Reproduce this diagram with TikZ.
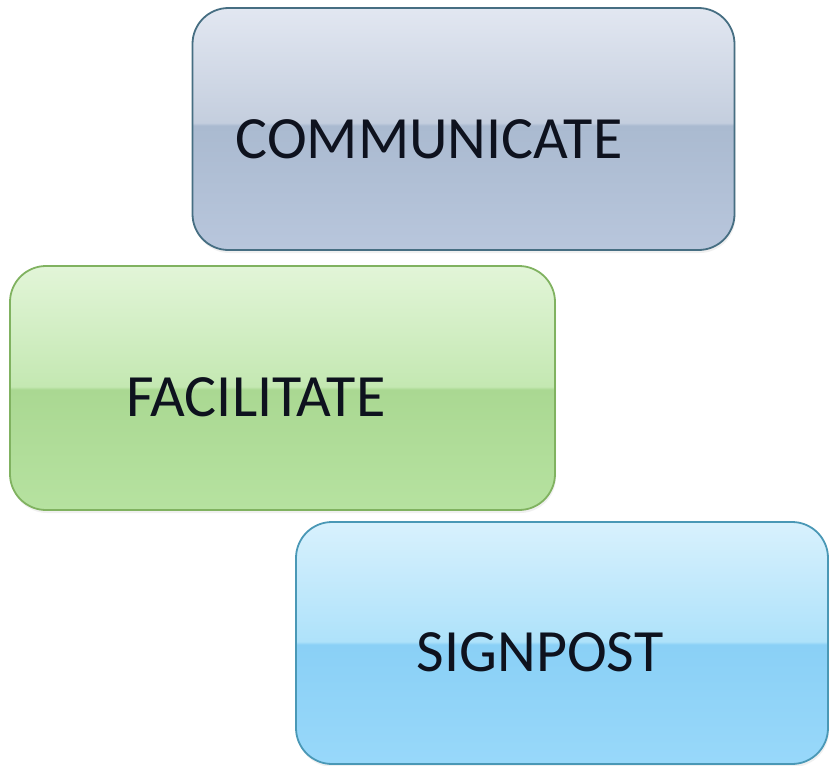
\documentclass[tikz,border=0pt]{standalone}
\usepackage{fontspec}
\setmainfont{Carlito}
\usetikzlibrary{shadows}

% box colours
\definecolor{commline}{RGB}{70,110,130}
\definecolor{commtop}{RGB}{226,231,241}
\definecolor{commup}{RGB}{196,206,222}
\definecolor{commdown}{RGB}{170,186,208}
\definecolor{commlow}{RGB}{184,198,220}
\definecolor{facline}{RGB}{128,178,96}
\definecolor{factop}{RGB}{226,245,216}
\definecolor{facup}{RGB}{196,232,178}
\definecolor{facdown}{RGB}{170,216,146}
\definecolor{faclow}{RGB}{182,226,160}
\definecolor{signline}{RGB}{74,152,182}
\definecolor{signtop}{RGB}{216,241,253}
\definecolor{signup}{RGB}{174,226,250}
\definecolor{signdown}{RGB}{138,208,246}
\definecolor{signlow}{RGB}{152,216,250}
\definecolor{inkdark}{RGB}{14,18,30}

% glossy shadings, bottom to top
\pgfdeclareverticalshading{commshade}{100bp}{color(0bp)=(commlow); color(25bp)=(commlow); color(50.7bp)=(commdown); color(51.3bp)=(commup); color(75bp)=(commtop); color(100bp)=(commtop)}
\pgfdeclareverticalshading{facshade}{100bp}{color(0bp)=(faclow); color(25bp)=(faclow); color(49.7bp)=(facdown); color(50.3bp)=(facup); color(75bp)=(factop); color(100bp)=(factop)}
\pgfdeclareverticalshading{signshade}{100bp}{color(0bp)=(signlow); color(25bp)=(signlow); color(49.7bp)=(signdown); color(50.3bp)=(signup); color(75bp)=(signtop); color(100bp)=(signtop)}

\tikzset{
  panel/.style={draw, line width=1.8pt, rounded corners=36pt,
    minimum width=542pt, minimum height=242pt, inner sep=0pt,
    drop shadow={opacity=0.12, shadow xshift=1pt, shadow yshift=-3pt}},
  word/.style={font=\fontsize{60}{66}\selectfont, text=inkdark, inner sep=0pt}
}

\begin{document}
\begin{tikzpicture}[x=1pt,y=-1pt]
    \useasboundingbox (0,0) rectangle (831,766);

    % Boxes
    \node[panel, draw=commline, shading=commshade] (comm) at (463.5,129) {};
    \node[panel, draw=facline, shading=facshade, minimum width=545pt, minimum height=244pt] (fac) at (282.5,388) {};
    \node[panel, draw=signline, shading=signshade, minimum width=532pt] (sign) at (562,643) {};

    % Words
    \node[word] (commtext) at ([xshift=-34.5pt,yshift=-10pt]comm.center) {COMMUNICATE};
    \node[word] (factext) at ([xshift=-26.5pt,yshift=-9pt]fac.center) {FACILITATE};
    \node[word] (signtext) at ([xshift=-22pt,yshift=-9pt]sign.center) {SIGNPOST};
\end{tikzpicture}
\end{document}
